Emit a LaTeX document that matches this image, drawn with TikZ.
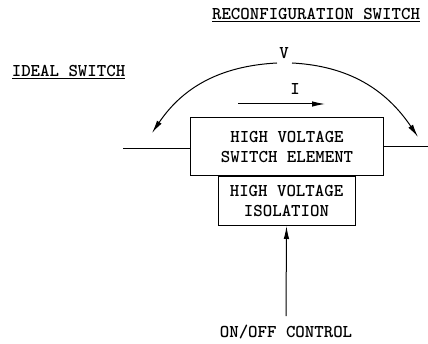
\documentclass[tikz,border=0pt]{standalone}
\usetikzlibrary{arrows.meta}

\begin{document}
\begin{tikzpicture}[x=1pt, y=1pt, line width=1pt,
  lbl/.style={font=\fontsize{18}{20}\selectfont\ttfamily\bfseries, inner sep=1pt},
  blk/.style={draw, lbl, align=center},
  arr/.style={-{Latex[length=13pt,width=5.5pt]}}]
\useasboundingbox (0,0) rectangle (428,344);
\node[lbl, anchor=base] (reconf) at (316,324) {\underline{RECONFIGURATION SWITCH}};
\node[lbl, anchor=base] (ideal) at (68.5,267) {\underline{IDEAL SWITCH}};
\node[blk, minimum width=193, minimum height=58] (sw) at (287,197) {HIGH VOLTAGE\\SWITCH ELEMENT};
\node[blk, minimum width=137, minimum height=49, anchor=north] (iso) at (286.5,168) {HIGH VOLTAGE\\ISOLATION};
\node[lbl, anchor=base] (ctrl) at (286,6) {ON/OFF CONTROL};
\node[lbl, anchor=base] (v) at (284,285) {V};
\node[lbl, anchor=base] (i) at (295,249) {I};
\coordinate (lft) at (123,195);
\coordinate (rgt) at (428,197);
\coordinate (iL) at (238,240);
\coordinate (iR) at (325,240);
\coordinate (vl) at (277,281);
\coordinate (vr) at (292,281);
\coordinate (tl) at (152,211);
\coordinate (tr) at (418,207);
\draw (lft) -- (lft -| sw.west);
\draw (sw.east |- rgt) -- (rgt);
\draw[arr] (iL) -- (iR);
\draw[arr] (vl) to[out=183, in=56] (tl);
\draw[arr] (vr) to[out=-3, in=124] (tr);
\draw[arr] ([yshift=8pt]ctrl.north) -- (iso.south);
\end{tikzpicture}
\end{document}
